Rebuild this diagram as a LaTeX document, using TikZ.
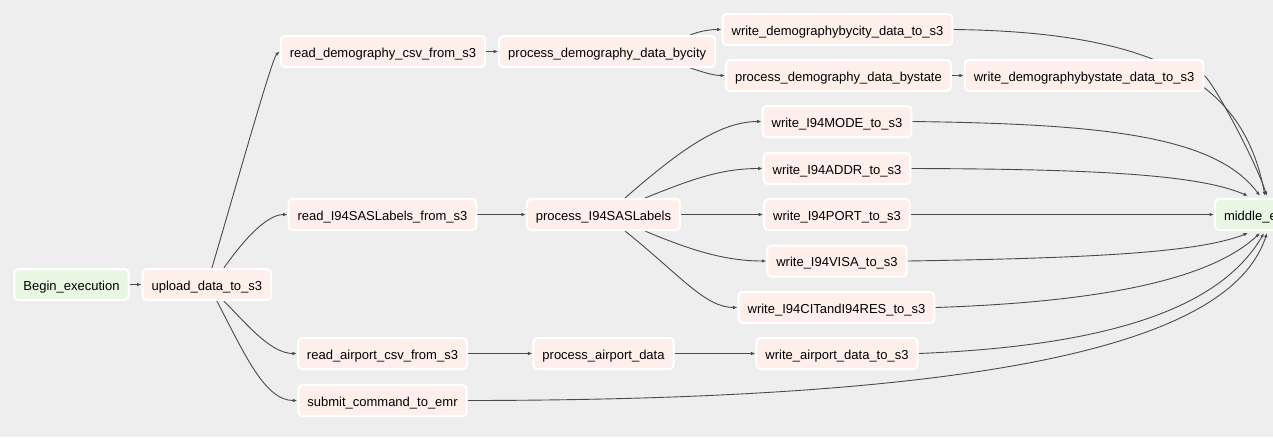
\documentclass[tikz,border=0pt]{standalone}
\usepackage{fontspec}
\setmainfont{Liberation Sans}
\usepackage{xcolor}
\usepackage{tikz}
\usetikzlibrary{positioning,arrows.meta}
\definecolor{canvas}{HTML}{EEEEEE}
\definecolor{taskfill}{HTML}{FFEFEB}
\definecolor{dummyfill}{HTML}{E8F7E4}
\definecolor{edgecol}{HTML}{4A4A4A}
\pgfdeclarelayer{bg}
\pgfdeclarelayer{edges}
\pgfsetlayers{bg,edges,main}

\begin{document}
\begin{tikzpicture}[
  x=1pt, y=1pt,
  node distance=12pt,
  box/.style={draw=white, line width=2pt, rounded corners=4pt, fill=taskfill,
              minimum height=31pt, inner xsep=9pt, inner ysep=0pt,
              text height=12pt, text depth=1pt,
              font=\fontsize{13}{15}\selectfont},
  dummy/.style={box, fill=dummyfill},
  arr/.style={-{Latex[length=4.5pt,width=3.5pt]}, edgecol, line width=0.9pt}
]
\useasboundingbox (0,0) rectangle (1273,-437);
\clip (0,0) rectangle (1273,-437);
\begin{pgfonlayer}{bg}
\fill[canvas] (0,0) rectangle (1273,-437);
\end{pgfonlayer}

\node[dummy] (begin) at (71.5,-284.5) {Begin\_execution};
\node[box, right=of begin] (upload) {upload\_data\_to\_s3};
\node[box] (readdem) at (383,-51.5) {read\_demography\_csv\_from\_s3};
\node[box, right=of readdem] (procbycity) {process\_demography\_data\_bycity};
\node[box] (writecity) at (837.5,-29.5) {write\_demographybycity\_data\_to\_s3};
\node[box] (procbystate) at (838.5,-75.5) {process\_demography\_data\_bystate};
\node[box, right=of procbystate] (writestate) {write\_demographybystate\_data\_to\_s3};
\node[box] (readsas) at (382.5,-214.5) {read\_I94SASLabels\_from\_s3};
\node[box] (procsas) at (603.5,-214.5) {process\_I94SASLabels};
\node[box] (writemode) at (837,-121.5) {write\_I94MODE\_to\_s3};
\node[box] (writeaddr) at (837,-168.5) {write\_I94ADDR\_to\_s3};
\node[box] (writeport) at (837,-214.5) {write\_I94PORT\_to\_s3};
\node[box] (writevisa) at (837,-261) {write\_I94VISA\_to\_s3};
\node[box] (writecit) at (836.5,-307.5) {write\_I94CITandI94RES\_to\_s3};
\node[box] (readair) at (382.5,-353.5) {read\_airport\_csv\_from\_s3};
\node[box] (procair) at (603.5,-353.5) {process\_airport\_data};
\node[box] (writeair) at (837,-353.5) {write\_airport\_data\_to\_s3};
\node[box] (submitemr) at (382.5,-400.5) {submit\_command\_to\_emr};
\node[dummy, anchor=west] (middle) at (1214,-214.5) {middle\_execution};

\begin{pgfonlayer}{edges}
\draw[arr] (begin) -- (upload);
\draw[arr] ([xshift=5pt]upload.north) .. controls (235,-190) and (272,-58) .. (readdem.west);
\draw[arr] ([xshift=17pt]upload.north) .. controls (240,-245) and (265,-214.5) .. (readsas.west);
\draw[arr] ([xshift=17pt]upload.south) .. controls (245,-322) and (270,-353.5) .. (readair.west);
\draw[arr] ([xshift=10pt]upload.south) .. controls (245,-355) and (265,-400.5) .. (submitemr.west);

\draw[arr] (readdem) -- (procbycity);
\draw[arr] ([xshift=-26pt]procbycity.north east) .. controls (700,-31) and (710,-29.5) .. (writecity.west);
\draw[arr] ([xshift=-26pt]procbycity.south east) .. controls (700,-71) and (712,-75.5) .. (procbystate.west);
\draw[arr] (procbystate) -- (writestate);

\draw[arr] (readsas) -- (procsas);
\draw[arr] ([xshift=21.5pt]procsas.north) .. controls (680,-150) and (720,-121.5) .. (writemode.west);
\draw[arr] ([xshift=41.5pt]procsas.north) .. controls (690,-180) and (720,-168.5) .. (writeaddr.west);
\draw[arr] (procsas) -- (writeport);
\draw[arr] ([xshift=41.5pt]procsas.south) .. controls (690,-250) and (725,-261) .. (writevisa.west);
\draw[arr] ([xshift=21.5pt]procsas.south) .. controls (680,-275) and (705,-307.5) .. (writecit.west);

\draw[arr] (readair) -- (procair);
\draw[arr] (procair) -- (writeair);

\draw[arr] (writecity.east) .. controls (1170,-32) and (1245,-90) .. ([xshift=51pt,yshift=2pt]middle.north west);
\draw[arr] (writestate.east) .. controls (1215,-85) and (1255,-160) .. ([xshift=53pt,yshift=2pt]middle.north west);
\draw[arr] (writemode.east) .. controls (1100,-124) and (1215,-135) .. ([xshift=46pt,yshift=2pt]middle.north west);
\draw[arr] (writeaddr.east) .. controls (1100,-169) and (1200,-175) .. ([xshift=34pt,yshift=2pt]middle.north west);
\draw[arr] (writeport) -- (middle);
\draw[arr] (writevisa.east) .. controls (1100,-258) and (1200,-252) .. ([xshift=34pt,yshift=-2pt]middle.south west);
\draw[arr] (writecit.east) .. controls (1100,-302) and (1210,-280) .. ([xshift=46pt,yshift=-2pt]middle.south west);
\draw[arr] (writeair.east) .. controls (1130,-345) and (1225,-300) .. ([xshift=50pt,yshift=-2pt]middle.south west);
\draw[arr] (submitemr.east) .. controls (1050,-400) and (1235,-330) .. ([xshift=53pt,yshift=-2pt]middle.south west);
\end{pgfonlayer}
\end{tikzpicture}
\end{document}
